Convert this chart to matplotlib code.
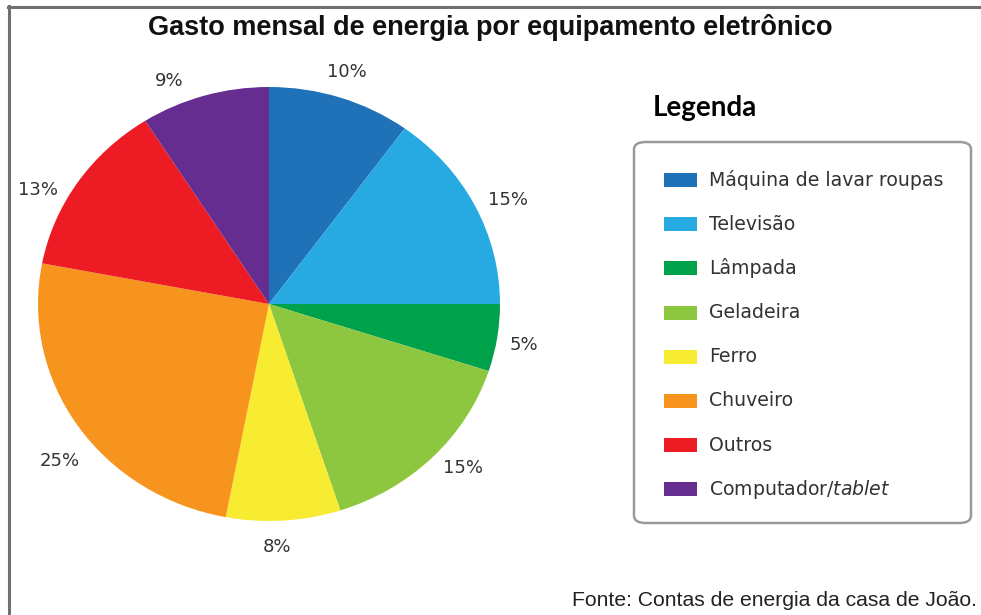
import numpy as np
import matplotlib
matplotlib.use("Agg")
import matplotlib.pyplot as plt
from matplotlib.patches import Rectangle, FancyBboxPatch
from matplotlib.lines import Line2D

plt.rcParams['mathtext.fontset'] = 'custom'
plt.rcParams['mathtext.rm'] = 'DejaVu Sans'
plt.rcParams['mathtext.it'] = 'DejaVu Sans:italic'

categorias = ['Máquina de lavar roupas', 'Televisão', 'Lâmpada', 'Geladeira',
              'Ferro', 'Chuveiro', 'Outros', r'Computador/$\mathit{tablet}$']
valores = [10, 15, 5, 15, 8, 25, 13, 9]
cores = ['#1F71B8', '#27A9E1', '#00A14B', '#8DC63F',
         '#F7EC31', '#F7941D', '#ED1C24', '#662D91']

# small nudges of the % labels (degrees / radius), as in the original layout
ajuste_ang = [0.5, -2.2, -0.7, 3.0, -1.8, 4.5, 6.4, 6.6]
ajuste_raio = [1.12, 1.14, 1.12, 1.13, 1.12, 1.16, 1.13, 1.115]

W, H = 981, 615
fig = plt.figure(figsize=(W / 100, H / 100), dpi=100)

def fx(px):
    return px / W

def fy(py):
    return 1 - py / H

# frame lines (top and left)
fig.add_artist(Line2D([fx(8), 1], [fy(6.5), fy(6.5)], color='#707070', lw=2.2))
fig.add_artist(Line2D([fx(8.5), fx(8.5)], [fy(6), 0], color='#707070', lw=2.2))

fig.text(fx(490), fy(27.5), 'Gasto mensal de energia por equipamento eletrônico',
         ha='center', va='center', fontsize=19.5, fontweight='bold',
         family='Liberation Sans', color='#111111')

# pie (slightly elliptical like the original)
ax = fig.add_axes([fx(38), fy(521), fx(500) - fx(38), fy(87) - fy(521)])
wedges, textos = ax.pie(valores, colors=cores, startangle=90, counterclock=False,
                        labels=[f'{v}%' for v in valores], labeldistance=1.14,
                        textprops=dict(fontsize=13, color='#333333', family='DejaVu Sans'),
                        wedgeprops=dict(linewidth=0))
for w, t, da, r in zip(wedges, textos, ajuste_ang, ajuste_raio):
    ang = np.deg2rad((w.theta1 + w.theta2) / 2 + da)
    t.set_position((r * np.cos(ang), r * np.sin(ang)))
    t.set_ha('center')
    t.set_va('center')
ax.set_aspect('auto')
ax.set_xlim(-1, 1)
ax.set_ylim(-1, 1)
ax.axis('off')

# legend
fig.text(fx(653), fy(108), 'Legenda', ha='left', va='center', fontsize=20,
         fontweight='bold', family='Lato', color='#000000')
box = FancyBboxPatch((fx(634), fy(523)), fx(971) - fx(634), fy(142) - fy(523),
                     boxstyle='round,pad=0,rounding_size=0.012',
                     transform=fig.transFigure, facecolor='white',
                     edgecolor='#9a9a9a', lw=1.8)
fig.add_artist(box)
for i, (nome, cor) in enumerate(zip(categorias, cores)):
    yc = 180 + i * 44.2
    fig.add_artist(Rectangle((fx(664), fy(yc + 7)), fx(697) - fx(664), fy(yc - 7) - fy(yc + 7),
                             transform=fig.transFigure, facecolor=cor, edgecolor='none'))
    fig.text(fx(709), fy(yc), nome, ha='left', va='center', fontsize=13.6,
             family='DejaVu Sans', color='#333333')

fig.text(fx(572), fy(601), 'Fonte: Contas de energia da casa de João.', ha='left',
         va='center', fontsize=15.2, family='Liberation Sans', color='#222222')

fig.savefig('out.png', dpi=100)
